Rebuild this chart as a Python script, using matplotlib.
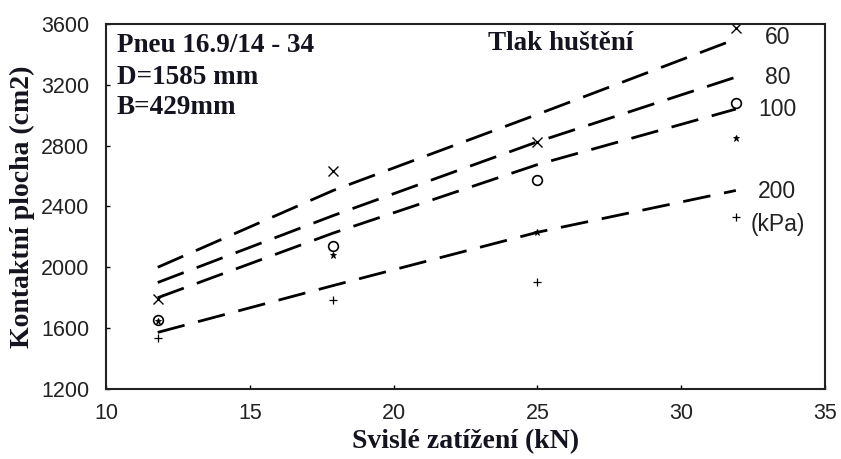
import matplotlib
matplotlib.use("Agg")
import matplotlib.pyplot as plt

# Measured data points (x = vertical load kN, y = contact area cm2)
load_pts = [11.8, 17.9, 25.0, 31.9]
p60_pts = [1790, 2630, 2825, 3570]
p80_pts = [1645, 2080, 2235, 2850]
p100_pts = [1655, 2140, 2575, 3080]
p200_pts = [1535, 1785, 1905, 2330]

# Fitted (dashed) curves
curve_x = [11.8, 17.9, 25.0, 31.9]
c60 = [2000, 2505, 3005, 3500]
c80 = [1900, 2340, 2825, 3250]
c100 = [1800, 2225, 2675, 3040]
c200 = [1572, 1880, 2230, 2505]

pressure_labels = ["60", "80", "100", "200", "(kPa)"]
xticks = [10, 15, 20, 25, 30, 35]
yticks = [1200, 1600, 2000, 2400, 2800, 3200, 3600]

fig = plt.figure(figsize=(8.41, 4.59), dpi=100)
ax = fig.add_axes([0.126, 0.1525, 0.855, 0.7955])

dash = (0, (10, 5))
for cy in (c60, c80, c100, c200):
    ax.plot(curve_x, cy, color="black", lw=2.0, linestyle=dash)

ax.plot(load_pts, p60_pts, linestyle="none", marker="x", ms=7, mew=1.0, color="black")
ax.plot(load_pts, p100_pts, linestyle="none", marker="o", ms=7, mew=1.2, mfc="none", color="black")
ax.plot(load_pts, p80_pts, linestyle="none", marker="*", ms=5, mew=0.6, color="black")
ax.plot(load_pts, p200_pts, linestyle="none", marker="+", ms=6, mew=0.9, color="black")

ax.set_xlim(10, 35)
ax.set_ylim(1200, 3600)
ax.set_xticks(xticks)
ax.set_yticks(yticks)
ax.tick_params(direction="in", length=3, width=1, labelsize=15.5, colors="black")
ax.tick_params(axis="x", pad=10)
ax.tick_params(axis="y", pad=12)
for lab in ax.get_xticklabels() + ax.get_yticklabels():
    lab.set_family("Liberation Sans")
    lab.set_color("#222222")
for s in ax.spines.values():
    s.set_linewidth(1.5)
    s.set_color("#222222")

serif = dict(family="Liberation Serif", weight="bold", color="#141420")
ax.set_xlabel("Svislé zatížení (kN)", fontsize=20, labelpad=4, **serif)
ax.set_ylabel("Kontaktní plocha (cm2)", fontsize=20, labelpad=4, **serif)

ax.text(10.38, 3455, "Pneu 16.9/14 - 34", fontsize=19.5, va="center", ha="left", **serif)
ax.text(10.38, 3245, "D=1585 mm", fontsize=19.5, va="center", ha="left", **serif)
ax.text(10.38, 3048, "B=429mm", fontsize=19.5, va="center", ha="left", **serif)
ax.text(23.28, 3468, "Tlak huštění", fontsize=19.5, va="center", ha="left", **serif)

sans = dict(family="Liberation Sans", color="#222222", fontsize=16.5, va="center", ha="left")
ax.text(32.91, 3508, pressure_labels[0], **sans)
ax.text(32.91, 3245, pressure_labels[1], **sans)
ax.text(32.67, 3035, pressure_labels[2], **sans)
ax.text(32.67, 2495, pressure_labels[3], **sans)
ax.text(32.43, 2278, pressure_labels[4], **sans)

fig.savefig("out.png", dpi=100)
